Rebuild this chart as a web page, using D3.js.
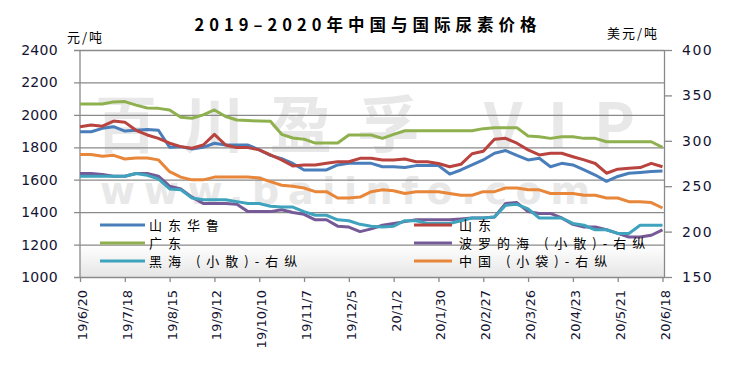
<!DOCTYPE html>
<html>
<head>
<meta charset="utf-8">
<script src="https://cdn.jsdelivr.net/npm/d3@7"></script>
<style>
  body { margin: 0; background: #fff; }
  svg { display: block; }
</style>
</head>
<body>
<svg id="chart" width="734" height="371"></svg>
<script>
// weekly readings, first week 2019-06-20
const startDate = '2019-06-20';
const tickLabels = ['19/6/20', '19/7/18', '19/8/15', '19/9/12', '19/10/10', '19/11/7', '19/12/5',
    '20/1/2', '20/1/30', '20/2/27', '20/3/26', '20/4/23', '20/5/21', '20/6/18'];
const leftTicks = [1000, 1200, 1400, 1600, 1800, 2000, 2200, 2400];
const rightTicks = [150, 200, 250, 300, 350, 400];

// 元/吨, left axis
const shandongHualu = [1896, 1896, 1917, 1927, 1900, 1905, 1910, 1905, 1800, 1804,
    1790, 1800, 1825, 1814, 1814, 1814, 1784, 1750, 1730, 1700,
    1660, 1660, 1660, 1691, 1701, 1701, 1701, 1680, 1680, 1675,
    1687, 1687, 1687, 1635, 1660, 1691, 1722, 1763, 1780, 1750,
    1722, 1732, 1680, 1701, 1691, 1660, 1629, 1590, 1620, 1640,
    1645, 1650, 1654];
const shandong = [1927, 1937, 1930, 1962, 1955, 1905, 1876, 1855, 1825, 1804,
    1794, 1814, 1880, 1814, 1798, 1798, 1784, 1753, 1722, 1685,
    1691, 1691, 1701, 1711, 1711, 1732, 1732, 1722, 1722, 1728,
    1711, 1711, 1700, 1680, 1695, 1760, 1775, 1850, 1855, 1825,
    1784, 1753, 1763, 1763, 1742, 1722, 1700, 1640, 1665, 1670,
    1675, 1701, 1680];
const guangdong = [2067, 2067, 2067, 2080, 2082, 2060, 2042, 2040, 2030, 1985,
    1979, 2000, 2030, 1990, 1968, 1965, 1962, 1960, 1880, 1857,
    1850, 1826, 1826, 1826, 1876, 1876, 1876, 1855, 1880, 1902,
    1902, 1902, 1902, 1902, 1902, 1902, 1915, 1921, 1921, 1921,
    1870, 1865, 1855, 1865, 1865, 1855, 1855, 1834, 1834, 1834,
    1834, 1834, 1800];

// 美元/吨, right axis
const baltic = [264, 264, 263, 261, 261, 264, 264, 261, 250, 247,
    238, 231, 231, 231, 230, 222, 222, 222, 224, 221,
    219, 213, 213, 206, 205, 200, 203, 207, 209, 211,
    213, 213, 213, 213, 214, 215, 215, 216, 231, 232,
    222, 220, 220, 215, 208, 205, 205, 202, 198, 194,
    194, 196, 202];
const blackSea = [261, 261, 261, 261, 261, 264, 262, 258, 247, 246,
    237, 235, 235, 235, 233, 231, 231, 228, 227, 227,
    222, 218, 218, 213, 212, 208, 206, 205, 206, 212,
    212, 209, 209, 209, 212, 215, 215, 216, 229, 230,
    225, 215, 215, 215, 209, 207, 202, 202, 198, 198,
    207, 207, 207];
const chinaBag = [285, 285, 283, 284, 280, 281, 281, 279, 266, 260,
    257, 257, 260, 260, 260, 260, 259, 255, 251, 250,
    248, 244, 244, 237, 237, 238, 244, 246, 245, 242,
    244, 244, 244, 242, 240, 240, 244, 244, 248, 248,
    246, 246, 242, 242, 242, 240, 240, 237, 237, 233,
    233, 232, 226];

const svg = d3.select('#chart');

const plotLeft = 80, plotRight = 664, plotTop = 50, plotBottom = 277;

const weeks = d3.range(shandong.length).map(i => d3.timeDay.offset(d3.timeParse('%Y-%m-%d')(startDate), i * 7));
const tickDates = tickLabels.map(d3.timeParse('%y/%-m/%-d'));

const x = d3.scaleTime().domain([weeks[0], weeks[weeks.length - 1]]).range([plotLeft, 662.5]);
const yL = d3.scaleLinear().domain([1000, 2400]).range([plotBottom, plotTop]);
const yR = d3.scaleLinear().domain([150, 400]).range([plotBottom, plotTop]);

// light gradient at the foot of the plot
const grad = svg.append('defs').append('linearGradient')
    .attr('id', 'foot').attr('x1', 0).attr('y1', 0).attr('x2', 0).attr('y2', 1);
grad.append('stop').attr('offset', '0%').attr('stop-color', '#ffffff');
grad.append('stop').attr('offset', '100%').attr('stop-color', '#e6e6e6');
svg.append('rect')
    .attr('x', plotLeft).attr('y', yL(1200))
    .attr('width', plotRight - plotLeft).attr('height', plotBottom - yL(1200))
    .attr('fill', 'url(#foot)');

// watermark
svg.append('text')
    .attr('x', 95).attr('y', 148)
    .attr('textLength', 540)
    .attr('font-family', 'Noto Sans CJK SC')
    .attr('font-size', 62)
    .attr('font-weight', 'bold')
    .attr('fill', '#e8e8e8')
    .text('百川盈孚 VIP');
svg.append('text')
    .attr('x', 100).attr('y', 204)
    .attr('textLength', 490)
    .attr('font-family', 'DejaVu Sans')
    .attr('font-size', 38)
    .attr('font-weight', 'bold')
    .attr('fill', '#e8e8e8')
    .text('www.baiinfo.com');

// grid + left axis
svg.append('g')
    .attr('transform', `translate(${plotRight},0)`)
    .call(d3.axisLeft(yL).tickValues(leftTicks).tickSize(plotRight - plotLeft + 6).tickFormat(''))
    .call(g => g.select('.domain').remove())
    .call(g => g.selectAll('line').attr('stroke', '#8a8a8a').attr('stroke-width', 1.3));

svg.append('g')
    .attr('transform', `translate(${plotLeft - 6},0)`)
    .call(d3.axisLeft(yL).tickValues(leftTicks).tickFormat(d3.format('d')).tickSize(0).tickPadding(16))
    .call(g => g.select('.domain').remove())
    .call(g => g.selectAll('text')
        .attr('font-family', 'DejaVu Sans').attr('font-size', 14)
        .attr('letter-spacing', 0.3).attr('fill', '#141432'));

svg.append('line')
    .attr('x1', plotLeft).attr('x2', plotLeft).attr('y1', plotTop).attr('y2', plotBottom)
    .attr('stroke', '#8a8a8a').attr('stroke-width', 1.3);

// right axis
svg.append('g')
    .attr('transform', `translate(${plotRight},0)`)
    .call(d3.axisRight(yR).tickValues(rightTicks).tickSize(8).tickPadding(10).tickSizeOuter(0))
    .call(g => g.select('.domain').attr('stroke', '#8a8a8a').attr('stroke-width', 1.3))
    .call(g => g.selectAll('line').attr('stroke', '#8a8a8a').attr('stroke-width', 1.3))
    .call(g => g.selectAll('text')
        .attr('font-family', 'DejaVu Sans').attr('font-size', 14)
        .attr('letter-spacing', 1.5).attr('fill', '#141432'));

// x axis
svg.append('g')
    .attr('transform', `translate(0,${plotBottom})`)
    .call(d3.axisBottom(x).tickValues(tickDates).tickFormat(d3.timeFormat('%y/%-m/%-d')).tickSize(5).tickSizeOuter(0))
    .call(g => g.select('.domain').remove())
    .call(g => g.selectAll('line').attr('stroke', '#8a8a8a').attr('stroke-width', 1.3))
    .call(g => g.selectAll('text')
        .attr('transform', 'rotate(-90)')
        .attr('text-anchor', 'end')
        .attr('x', -13).attr('y', 0).attr('dy', '0.5em')
        .attr('font-family', 'DejaVu Sans').attr('font-size', 13)
        .attr('fill', '#141432'));

// lines
const series = [
    { name: '山东华鲁', values: shandongHualu, y: yL, color: '#4a7ebb' },
    { name: '山东', values: shandong, y: yL, color: '#b8433f' },
    { name: '广东', values: guangdong, y: yL, color: '#8fb04e' },
    { name: '波罗的海 (小散)-右纵', values: baltic, y: yR, color: '#765a97' },
    { name: '黑海 (小散)-右纵', values: blackSea, y: yR, color: '#3fa3bd' },
    { name: '中国 (小袋)-右纵', values: chinaBag, y: yR, color: '#e8863a' }
];

const drawOrder = [5, 3, 4, 2, 0, 1];
drawOrder.forEach(i => {
    const s = series[i];
    const line = d3.line()
        .x((d, j) => x(weeks[j]))
        .y(d => s.y(d));
    svg.append('path')
        .datum(s.values)
        .attr('fill', 'none')
        .attr('stroke', s.color)
        .attr('stroke-width', 3)
        .attr('stroke-linejoin', 'round')
        .attr('d', line);
});

// legend, two columns
const legendSpots = [
    { x1: 100, x2: 145, y: 225 },
    { x1: 414, x2: 452, y: 225 },
    { x1: 100, x2: 145, y: 243 },
    { x1: 414, x2: 452, y: 243 },
    { x1: 100, x2: 145, y: 261 },
    { x1: 414, x2: 452, y: 261 }
];
const legend = svg.append('g');
series.forEach((s, i) => {
    const p = legendSpots[i];
    legend.append('line')
        .attr('x1', p.x1).attr('x2', p.x2).attr('y1', p.y).attr('y2', p.y)
        .attr('stroke', s.color).attr('stroke-width', 3);
    legend.append('text')
        .attr('x', p.x2 + (i % 2 ? 7 : 4)).attr('y', p.y)
        .attr('dy', '0.36em')
        .attr('font-family', 'Noto Sans CJK SC')
        .attr('font-size', 13)
        .attr('letter-spacing', 6)
        .attr('fill', '#000')
        .text(s.name);
});

// title and units
svg.append('text')
    .attr('x', 368).attr('y', 31)
    .attr('text-anchor', 'middle')
    .attr('font-family', 'Noto Sans CJK SC')
    .attr('font-size', 16.5)
    .attr('font-weight', 'bold')
    .attr('letter-spacing', 5)
    .attr('fill', '#000')
    .text('2019–2020年中国与国际尿素价格');

svg.append('text')
    .attr('x', 67).attr('y', 42)
    .attr('font-family', 'Noto Sans CJK SC')
    .attr('font-size', 13)
    .attr('letter-spacing', 2)
    .text('元/吨');

svg.append('text')
    .attr('x', 607).attr('y', 38)
    .attr('font-family', 'Noto Sans CJK SC')
    .attr('font-size', 13)
    .attr('letter-spacing', 2)
    .text('美元/吨');
</script>
</body>
</html>
